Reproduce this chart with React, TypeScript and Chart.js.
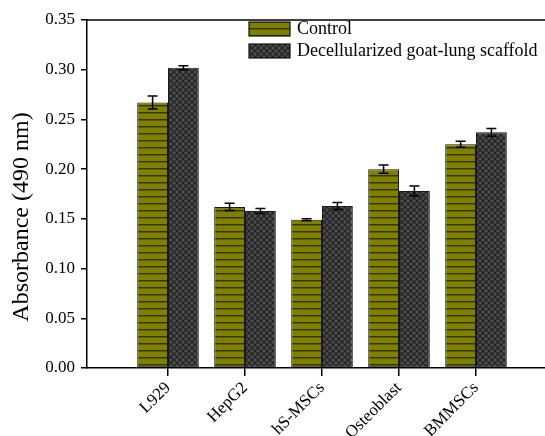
import React, { useEffect, useRef } from "react";
import { Chart, registerables } from "chart.js";

Chart.register(...registerables);

const categories = ["L929", "HepG2", "hS-MSCs", "Osteoblast", "BMMSCs"];
const seriesLabels = ["Control", "Decellularized goat-lung scaffold"];
const controlValues = [0.267, 0.162, 0.149, 0.2, 0.225];
const controlErrors = [0.0065, 0.0037, 0.001, 0.0042, 0.003];
const scaffoldValues = [0.302, 0.158, 0.163, 0.178, 0.237];
const scaffoldErrors = [0.002, 0.0025, 0.0035, 0.005, 0.004];
const yTicks = [0, 0.05, 0.1, 0.15, 0.2, 0.25, 0.3, 0.35];
const yTitle = "Absorbance (490 nm)";

const FONT = '"Liberation Serif", "Times New Roman", serif';

function makeStripes(): CanvasPattern | string {
  const c = document.createElement("canvas");
  c.width = 8;
  c.height = 7;
  const g = c.getContext("2d");
  if (!g) return "#808000";
  g.fillStyle = "#808000";
  g.fillRect(0, 0, 8, 7);
  g.fillStyle = "#343400";
  g.fillRect(0, 0, 8, 1);
  g.fillStyle = "#5c5c00";
  g.fillRect(0, 1, 8, 1);
  return g.createPattern(c, "repeat") as CanvasPattern;
}

function makeHatch(): CanvasPattern | string {
  const c = document.createElement("canvas");
  c.width = 6;
  c.height = 6;
  const g = c.getContext("2d");
  if (!g) return "#404040";
  g.fillStyle = "#4c4c4c";
  g.fillRect(0, 0, 6, 6);
  g.strokeStyle = "#222222";
  g.lineWidth = 1.2;
  g.beginPath();
  g.moveTo(0, 0);
  g.lineTo(6, 6);
  g.moveTo(0, 6);
  g.lineTo(6, 0);
  g.stroke();
  return g.createPattern(c, "repeat") as CanvasPattern;
}

const errorBarPlugin = {
  id: "errorBars",
  afterDatasetsDraw(chart: any) {
    const ctx = chart.ctx;
    const yScale = chart.scales.y;
    const errs = [controlErrors, scaffoldErrors];
    const vals = [controlValues, scaffoldValues];
    ctx.save();
    ctx.strokeStyle = "#000";
    ctx.lineWidth = 1.5;
    chart.data.datasets.forEach((_: any, i: number) => {
      const meta = chart.getDatasetMeta(i);
      meta.data.forEach((bar: any, j: number) => {
        const v = vals[i][j];
        const e = errs[i][j];
        const yt = yScale.getPixelForValue(v + e);
        const yb = yScale.getPixelForValue(v - e);
        const x = bar.x;
        ctx.beginPath();
        ctx.moveTo(x, yt);
        ctx.lineTo(x, yb);
        ctx.moveTo(x - 5, yt);
        ctx.lineTo(x + 5, yt);
        ctx.moveTo(x - 5, yb);
        ctx.lineTo(x + 5, yb);
        ctx.stroke();
      });
    });
    ctx.restore();
  },
};

const framePlugin = {
  id: "frameAndLegend",
  afterDraw(chart: any) {
    const ctx = chart.ctx;
    const a = chart.chartArea;
    ctx.save();
    ctx.strokeStyle = "#000";
    ctx.lineWidth = 1.5;
    ctx.beginPath();
    ctx.moveTo(a.left, a.top);
    ctx.lineTo(a.right, a.top);
    ctx.stroke();
    // y-axis title
    ctx.save();
    ctx.translate(22, 217);
    ctx.rotate(-Math.PI / 2);
    ctx.fillStyle = "#000";
    ctx.font = `24px ${FONT}`;
    ctx.textAlign = "center";
    ctx.textBaseline = "middle";
    ctx.fillText(yTitle, 0, 0);
    ctx.restore();
    // legend
    const boxX = 249;
    const rows = [22, 44];
    chart.data.datasets.forEach((ds: any, i: number) => {
      const y = rows[i];
      ctx.fillStyle = ds.backgroundColor;
      ctx.fillRect(boxX, y, 41, 14);
      ctx.lineWidth = 1.2;
      ctx.strokeStyle = "#111";
      ctx.strokeRect(boxX, y, 41, 14);
      ctx.fillStyle = "#000";
      ctx.font = `18px ${FONT}`;
      ctx.textBaseline = "middle";
      ctx.textAlign = "left";
      ctx.fillText(ds.label, 297, y + 7);
    });
    ctx.restore();
  },
};

export default function App() {
  const ref = useRef<HTMLCanvasElement | null>(null);
  useEffect(() => {
    if (!ref.current) return;
    const stripes = makeStripes();
    const hatch = makeHatch();
    const chart = new Chart(ref.current, {
      type: "bar",
      data: {
        datasets: [
          {
            label: seriesLabels[0],
            data: controlValues.map((v, i) => ({ x: i + 1, y: v })),
            backgroundColor: stripes as any,
            borderColor: "#1a1a1a",
            borderWidth: 1,
            borderSkipped: false,
          },
          {
            label: seriesLabels[1],
            data: scaffoldValues.map((v, i) => ({ x: i + 1, y: v })),
            backgroundColor: hatch as any,
            borderColor: "#1a1a1a",
            borderWidth: 1,
            borderSkipped: false,
          },
        ],
      },
      options: {
        animation: false,
        responsive: false,
        maintainAspectRatio: false,
        layout: { padding: { top: 20, left: 0, right: 0, bottom: 0 } },
        datasets: { bar: { categoryPercentage: 0.8, barPercentage: 1.0 } },
        plugins: {
          legend: { display: false },
          tooltip: { enabled: false },
        },
        scales: {
          x: {
            type: "linear",
            offset: false,
            min: -0.052,
            max: 5.896,
            afterBuildTicks: (scale: any) => {
              scale.ticks = categories.map((_, i) => ({ value: i + 1 }));
            },
            afterFit: (scale: any) => {
              scale.height = 68;
            },
            grid: {
              offset: false,
              drawOnChartArea: false,
              drawTicks: true,
              tickLength: 8,
              color: "#000",
              lineWidth: 1.5,
            },
            border: { display: true, color: "#000", width: 1.5 },
            ticks: {
              autoSkip: false,
              minRotation: 45,
              maxRotation: 45,
              padding: 2,
              color: "#000",
              font: { family: FONT, size: 17 },
              callback: (v: any) => categories[Math.round(Number(v)) - 1] ?? "",
            },
          },
          y: {
            min: 0,
            max: 0.35,
            afterBuildTicks: (scale: any) => {
              scale.ticks = yTicks.map((v) => ({ value: v }));
            },
            afterFit: (scale: any) => {
              scale.width = 87;
            },
            grid: {
              drawOnChartArea: false,
              drawTicks: true,
              tickLength: 6,
              color: "#000",
              lineWidth: 1.5,
            },
            border: { display: true, color: "#000", width: 1.5 },
            ticks: {
              padding: 6,
              color: "#000",
              font: { family: FONT, size: 17 },
              callback: (v: any) => Number(v).toFixed(2),
            },
          },
        },
      },
      plugins: [errorBarPlugin, framePlugin],
    });
    return () => chart.destroy();
  }, []);
  return (
    <div style={{ position: "fixed", left: 0, top: 0, width: 545, height: 436, background: "#fff" }}>
      <canvas ref={ref} width={545} height={436} style={{ display: "block", width: 545, height: 436 }} />
    </div>
  );
}
